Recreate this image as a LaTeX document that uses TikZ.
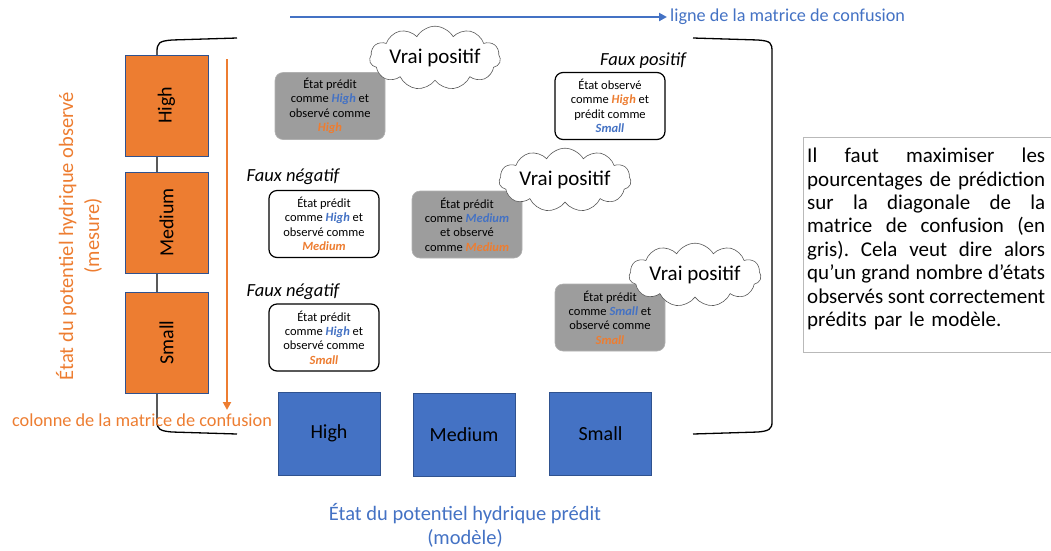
\documentclass[tikz,border=0pt]{standalone}
\usepackage{fontspec}
\setmainfont{Carlito}
\usetikzlibrary{shapes.symbols,arrows.meta}
\definecolor{obsorange}{HTML}{ED7D31}
\definecolor{predblue}{HTML}{4472C4}
\definecolor{edgeblue}{HTML}{2F528F}
\definecolor{diaggray}{RGB}{157,157,157}
\definecolor{notegray}{RGB}{185,185,185}
\newcommand{\kwb}[1]{\textcolor{predblue}{\bfseries\itshape #1}}
\newcommand{\kwo}[1]{\textcolor{obsorange}{\bfseries\itshape #1}}
% a justified line of the note: the word spaces stretch to the full width
\newcommand{\fullline}[1]{\makebox[238pt][s]{\spaceskip=0pt\xspaceskip=0pt #1}}
\frenchspacing

\begin{document}
\begin{tikzpicture}[x=1pt,y=-1pt,
  obsbox/.style={draw=edgeblue, line width=0.8pt, fill=obsorange, rotate=90,
    minimum width=101pt, minimum height=83pt, inner sep=0pt,
    font=\fontsize{20}{24}\selectfont},
  predbox/.style={draw=edgeblue, line width=0.8pt, fill=predblue,
    minimum width=102pt, minimum height=83pt, inner sep=0pt,
    font=\fontsize{20}{24}\selectfont},
  cellbase/.style={rounded corners=8pt, minimum width=110pt, minimum height=67pt,
    inner sep=0pt, align=center, font=\fontsize{12.5}{14.4}\selectfont},
  diagcell/.style={cellbase, fill=diaggray, draw=diaggray!80!white, line width=0.6pt},
  offcell/.style={cellbase, fill=white, draw=black, line width=1.2pt},
  errlabel/.style={inner sep=0pt, font=\fontsize{18.5}{22}\selectfont\itshape},
  truecloud/.style={cloud, cloud puffs=11, cloud puff arc=120, aspect=2.9,
    draw=black!65, line width=0.6pt, fill=white, inner sep=0pt,
    font=\fontsize{21}{25}\selectfont},
  bracket/.style={draw=black, line width=1.3pt},
  axislabel/.style={align=center, inner sep=0pt},
]
\useasboundingbox (0,0) rectangle (1051,550);
\clip (0,0) rectangle (1051,550);

% brackets enclosing the matrix
\draw[bracket] (237,38) -- (172,40) .. controls (159,41) and (157,43) .. (157,52)
  -- (157,422) .. controls (157,429) and (160,431) .. (172,432) -- (237,434);
\draw[bracket] (693,38) -- (758,40) .. controls (771,41) and (772,43) .. (772,52)
  -- (772,422) .. controls (772,429) and (769,431) .. (758,432) -- (693,434);

% observed states (rows)
\node[obsbox] (oHigh) at (166.5,105.5) {High};
\node[obsbox] (oMedium) at (166.5,222.5) {Medium};
\node[obsbox] (oSmall) at (166.5,342.5) {Small};

% predicted states (columns)
\node[predbox] (pHigh) at (329,433.5) {High};
\node[predbox] (pMedium) at (464,435) {Medium};
\node[predbox] (pSmall) at (600.5,434) {Small};

% axis titles
\node[axislabel, rotate=90, text=obsorange, font=\fontsize{20.5}{26}\selectfont]
  (obsTitle) at (79,236) {État du potentiel hydrique observé\\(mesure)};
\node[axislabel, text=predblue, font=\fontsize{20.5}{24}\selectfont]
  (predTitle) at (465,525) {État du potentiel hydrique prédit\\(modèle)};

% reading directions
\coordinate (colTop) at (227,59);
\coordinate (colEnd) at (227,410);
\draw[obsorange, line width=2pt, -{Triangle[length=8pt,width=8pt]}] (colTop) -- (colEnd);
\node[text=obsorange, inner sep=0pt, font=\fontsize{18.3}{22}\selectfont]
  (colLabel) at (142,420) {colonne de la matrice de confusion};

\node[anchor=west, text=predblue, inner sep=0pt, font=\fontsize{18.2}{22}\selectfont]
  (rowLabel) at (670,17) {ligne de la matrice de confusion};
\coordinate (rowStart) at (290,17);
\draw[predblue, line width=2pt, -{Triangle[length=8pt,width=8pt]}, shorten >=3pt]
  (rowStart) -- (rowLabel.west);

% matrix cells
\node[diagcell] (cHH) at (330,106) {État prédit\\comme \kwb{High} et\\observé comme\\\kwo{High}};
\node[offcell] (cHS) at (610,106) {État observé\\comme \kwo{High} et\\prédit comme\\\kwb{Small}};
\node[offcell] (cMH) at (324,224) {État prédit\\comme \kwb{High} et\\observé comme\\\kwo{Medium}};
\node[diagcell] (cMM) at (467,224.5) {État prédit\\comme \kwb{Medium}\\et observé\\comme \kwo{Medium}};
\node[offcell] (cSH) at (324,337.5) {État prédit\\comme \kwb{High} et\\observé comme\\\kwo{Small}};
\node[diagcell] (cSS) at (610,317.5) {État prédit\\comme \kwb{Small} et\\observé comme\\\kwo{Small}};

% cell labels
\node[errlabel] (fpHS) at (643,61) {Faux positif};
\node[errlabel] (fnMH) at (293,177) {Faux négatif};
\node[errlabel] (fnSH) at (293,292) {Faux négatif};

\node[truecloud, minimum width=130pt, minimum height=45pt] (vpHH) at (435,58) {Vrai positif};
\node[truecloud, minimum width=132pt, minimum height=42pt] (vpMM) at (565,180) {Vrai positif};
\node[truecloud, minimum width=132pt, minimum height=45pt] (vpSS) at (695,275) {Vrai positif};

% explanatory note
\node[draw=notegray, line width=1pt, anchor=north west, minimum width=262pt,
  minimum height=215pt, inner sep=0pt] (noteBox) at (803,137) {};
\node[anchor=north west, text width=238pt, inner sep=0pt, align=left,
  font=\fontsize{21}{23.4}\selectfont] (noteText) at (807,148) {%
\fullline{Il faut maximiser les}\\
\fullline{pourcentages de prédiction}\\
\fullline{sur la diagonale de la}\\
\fullline{matrice de confusion (en}\\
\fullline{gris). Cela veut dire alors}\\
\fullline{qu’un grand nombre d’états}\\
\fullline{observés sont correctement}\\
prédits par le modèle.};
\end{tikzpicture}
\end{document}
